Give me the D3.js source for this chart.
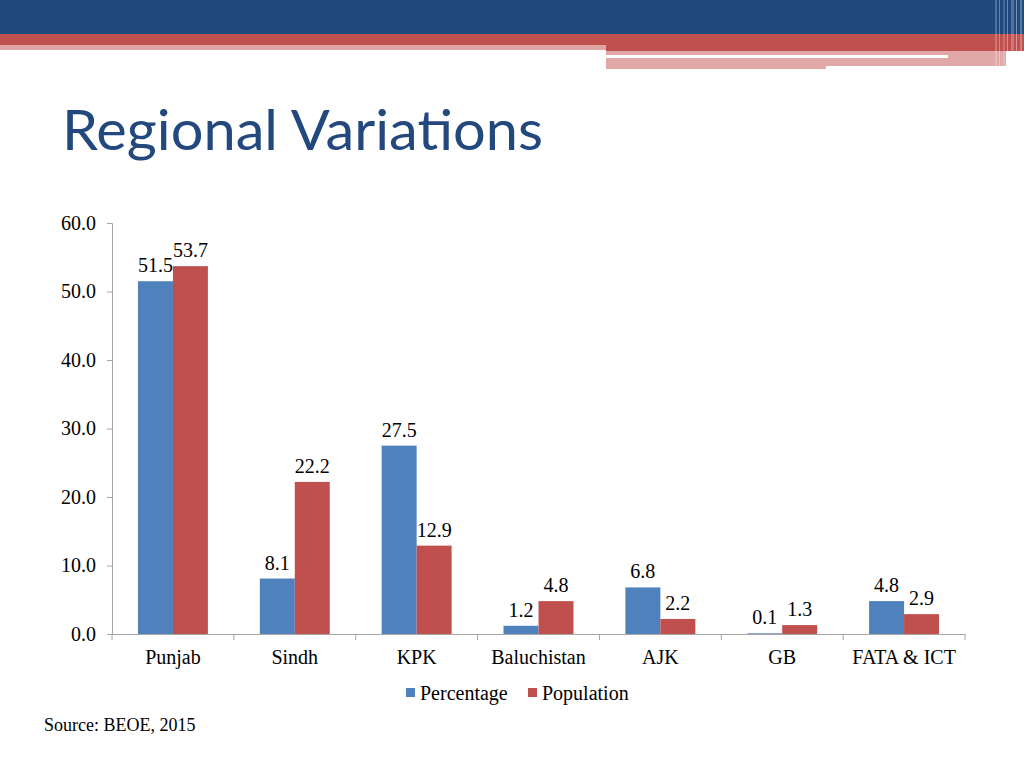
<!DOCTYPE html>
<html><head><meta charset="utf-8">
<script src="https://cdn.jsdelivr.net/npm/d3@7"></script>
<style>body{margin:0;background:#fff;}svg{display:block;}
.serif{font-family:"Liberation Serif","Times New Roman",Tinos,serif;}
</style>
</head><body>
<svg id="c" width="1024" height="768"></svg>
<script>
const categories = ["Punjab","Sindh","KPK","Baluchistan","AJK","GB","FATA & ICT"];
const percentage = [51.5, 8.1, 27.5, 1.2, 6.8, 0.1, 4.8];
const population = [53.7, 22.2, 12.9, 4.8, 2.2, 1.3, 2.9];
const yTicks = [0, 10, 20, 30, 40, 50, 60];
const seriesNames = ["Percentage","Population"];
const colors = ["#4F81BD","#C0504D"];

(function(){
const svg = d3.select("#c");

// header decoration
const hdr = svg.append("g");
hdr.append("rect").attr("x",0).attr("y",0).attr("width",1024).attr("height",34).attr("fill","#1F497D");
hdr.append("rect").attr("x",0).attr("y",34).attr("width",1024).attr("height",11).attr("fill","#C0504D");
hdr.append("rect").attr("x",0).attr("y",45).attr("width",606).attr("height",5).attr("fill","#DFA5A4");
hdr.append("rect").attr("x",606).attr("y",45).attr("width",418).attr("height",6).attr("fill","#C0504D");
hdr.append("rect").attr("x",606).attr("y",51).attr("width",400).attr("height",15).attr("fill","#E0A8A7");
hdr.append("rect").attr("x",606).attr("y",66).attr("width",220).attr("height",3).attr("fill","#E0A8A7");
hdr.append("rect").attr("x",606).attr("y",55).attr("width",342).attr("height",3).attr("fill","#FFFFFF");
const stripes = [[995,2,0.5],[999,1,0.7],[1003,2,0.4],[1007,1,0.8],[1011,3,0.5],[1016,1,0.9],[1020,2,0.6]];
stripes.forEach(s=>{
  hdr.append("rect").attr("x",s[0]).attr("y",0).attr("width",s[1]).attr("height",68).attr("fill","#fff").attr("opacity",s[2]*0.45);
});

// title
svg.append("text").attr("x",62).attr("y",150).text("Regional Variations")
  .style("font-family","Lato, 'Noto Sans', sans-serif").style("font-size","56px")
  .attr("textLength",481).attr("lengthAdjust","spacingAndGlyphs")
  .attr("fill","#23487D");

// chart
const pLeft = 112, pRight = 965, pTop = 223, pBottom = 634;
const fs = "20px";
const x = d3.scaleBand().domain(categories).range([pLeft,pRight]).paddingInner(0.426).paddingOuter(0.213);
const x0 = d3.scaleBand().domain(categories).range([pLeft,pRight]);
const xs = d3.scaleBand().domain(seriesNames).range([0,x.bandwidth()]);
const y = d3.scaleLinear().domain([0,60]).range([pBottom,pTop]);

const axisColor = "#A6A6A6";
// y axis
const ya = svg.append("g").attr("transform",`translate(${pLeft},0)`)
  .call(d3.axisLeft(y).tickValues(yTicks).tickSize(5).tickPadding(11).tickFormat(d3.format(".1f")));
ya.attr("font-family",null).attr("font-size",null);
ya.select(".domain").attr("stroke",axisColor);
ya.selectAll(".tick line").attr("stroke",axisColor);
ya.selectAll("text").attr("class","serif").style("font-size",fs).attr("fill","#000");

// bars
categories.forEach((c,i)=>{
  [percentage[i], population[i]].forEach((v,j)=>{
    const bx = x(c) + xs(seriesNames[j]);
    svg.append("rect").attr("x",bx).attr("y",y(v)).attr("width",xs.bandwidth()).attr("height",pBottom-y(v)).attr("fill",colors[j]);
    svg.append("text").attr("class","serif").attr("x",bx+xs.bandwidth()/2).attr("y",y(v)-9).attr("text-anchor","middle")
      .style("font-size",fs).attr("fill","#000").text(v.toFixed(1));
  });
});

// x axis
const xa = svg.append("g").attr("transform",`translate(0,${pBottom})`)
  .call(d3.axisBottom(x0).tickSize(0).tickPadding(16).tickSizeOuter(0));
xa.attr("font-family",null).attr("font-size",null);
xa.select(".domain").attr("stroke",axisColor);
xa.selectAll(".tick line").remove();
xa.selectAll("text").attr("class","serif").style("font-size",fs).attr("fill","#000");
const bounds = categories.map(c=>x0(c)).concat([pRight]);
svg.append("g").selectAll("line").data(bounds).join("line")
  .attr("x1",d=>d).attr("x2",d=>d).attr("y1",pBottom).attr("y2",pBottom+6).attr("stroke",axisColor);

// legend
const lg = svg.append("g");
const legX = [406, 528];
seriesNames.forEach((s,j)=>{
  lg.append("rect").attr("x",legX[j]).attr("y",688).attr("width",9).attr("height",9).attr("fill",colors[j]);
  lg.append("text").attr("class","serif").attr("x",legX[j]+14).attr("y",700).style("font-size",fs).attr("fill","#000").text(s);
});

// source
svg.append("text").attr("class","serif").attr("x",44).attr("y",731)
  .style("font-size","18px").attr("fill","#000").text("Source: BEOE, 2015");
})();
</script>
</body></html>
